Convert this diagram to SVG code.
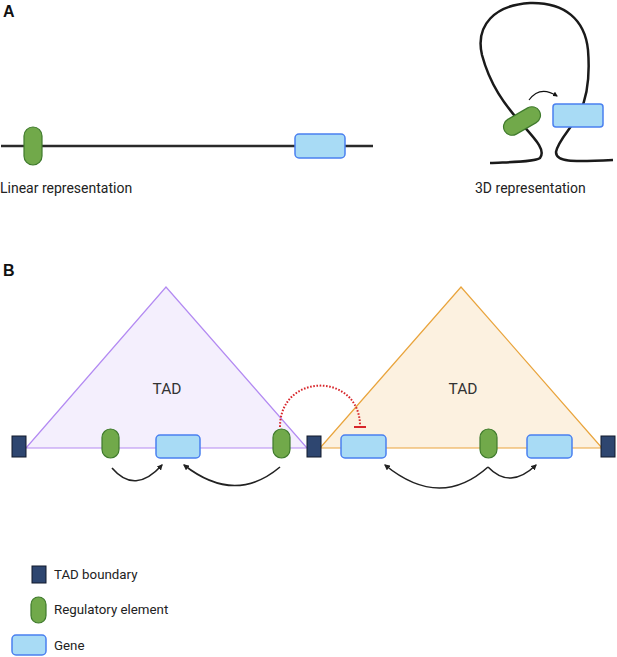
<svg xmlns="http://www.w3.org/2000/svg" width="617" height="657" viewBox="0 0 617 657">
<style>
.lbl{font-family:Roboto,"Liberation Sans",sans-serif;font-size:14px;fill:#222}
.leg{font-family:Roboto,"Liberation Sans",sans-serif;font-size:13.3px;fill:#222}
.tad{font-family:Roboto,"Liberation Sans",sans-serif;font-size:15.5px;fill:#333}
.hdr{font-family:"Liberation Sans",Arial,sans-serif;font-size:16px;font-weight:bold;fill:#111}
.reg{fill:#71a94a;stroke:#3f7a2c;stroke-width:1.2}
.gene{fill:#a8dbf5;stroke:#4a80f0;stroke-width:1.5}
.bnd{fill:#2e4670;stroke:#10182a;stroke-width:1}
.arr{fill:none;stroke:#222;stroke-width:1.6}
</style>
<defs>
<marker id="ah" viewBox="0 0 10 10" refX="8" refY="5" markerWidth="6" markerHeight="6" orient="auto" markerUnits="userSpaceOnUse">
<path d="M0,0 L10,5 L0,10 z" fill="#222"/>
</marker>
<marker id="ahs" viewBox="0 0 10 10" refX="8" refY="5" markerWidth="5" markerHeight="5" orient="auto" markerUnits="userSpaceOnUse">
<path d="M0,0 L10,5 L0,10 z" fill="#111"/>
</marker>
</defs>

<text class="hdr" x="3" y="17">A</text>
<text class="hdr" x="3" y="276">B</text>

<g id="linear">
<line x1="1" y1="146" x2="373" y2="146" stroke="#2a2a2a" stroke-width="2.5"/>
<rect class="reg" x="24" y="127" width="18" height="38" rx="9"/>
<rect class="gene" x="295" y="134" width="50" height="24" rx="4"/>
<text class="lbl" x="0" y="193">Linear representation</text>
</g>

<g id="3d">
<path d="M490,163 C510,162 535,162 540,158 C546,150 536,140 520,122 C505,105 490,85 482,55 C475,25 495,5 530,3 C565,2 585,20 588,50 C590,75 588,95 580,112 C572,128 558,140 556,152 C556,162 570,162 613,160" fill="none" stroke="#1a1a1a" stroke-width="2.5"/>
<rect class="reg" x="502" y="112.5" width="40" height="17" rx="8.5" transform="rotate(-30 522 121)"/>
<rect class="gene" x="553" y="104" width="50" height="23" rx="3"/>
<path d="M529,100 Q540,85 557,96" fill="none" stroke="#111" stroke-width="1.2" marker-end="url(#ahs)"/>
<text class="lbl" x="475" y="193">3D representation</text>
</g>

<g id="tad-left">
<polygon points="26,448 166,287 307,448" fill="#f4effd" stroke="#b38af2" stroke-width="1.2"/>
<text class="tad" x="167" y="394" text-anchor="middle">TAD</text>
</g>
<g id="tad-right">
<polygon points="320,448 461,287 602,448" fill="#fcf1e0" stroke="#e9a43c" stroke-width="1.2"/>
<text class="tad" x="463" y="394" text-anchor="middle">TAD</text>
</g>

<g id="boundaries">
<rect class="bnd" x="12" y="436" width="14" height="21"/>
<rect class="bnd" x="307" y="436" width="14" height="21"/>
<rect class="bnd" x="601" y="436" width="14" height="21"/>
</g>

<g id="elements">
<rect class="reg" x="102" y="429" width="17" height="29" rx="8.5"/>
<rect class="gene" x="156" y="435" width="44" height="23" rx="4"/>
<rect class="reg" x="273" y="429" width="17" height="29" rx="8.5"/>
<rect class="gene" x="341" y="435" width="45" height="23" rx="4"/>
<rect class="reg" x="480" y="429" width="17" height="29" rx="8.5"/>
<rect class="gene" x="527" y="435" width="45" height="23" rx="4"/>
</g>

<g id="connectors">
<path class="arr" d="M112,468 Q135,495 162,465" marker-end="url(#ah)"/>
<path class="arr" d="M280,467 Q235,505 184,465" marker-end="url(#ah)"/>
<path class="arr" d="M488,467 Q440,510 385,465" marker-end="url(#ah)"/>
<path class="arr" d="M488,467 Q510,490 536,465" marker-end="url(#ah)"/>
<path d="M280,427 C280,372 360,372 360,426" fill="none" stroke="#d7262b" stroke-width="2" stroke-dasharray="1.6 1.6"/>
<line x1="354" y1="427" x2="366" y2="427" stroke="#d7262b" stroke-width="2"/>
</g>

<g id="legend">
<rect class="bnd" x="32" y="566" width="14" height="17"/>
<text class="leg" x="54" y="579">TAD boundary</text>
<rect class="reg" x="31" y="597" width="15" height="26" rx="7.5"/>
<text class="leg" x="54" y="614">Regulatory element</text>
<rect class="gene" x="12" y="635" width="34" height="20" rx="4"/>
<text class="leg" x="54" y="650">Gene</text>
</g>
</svg>
